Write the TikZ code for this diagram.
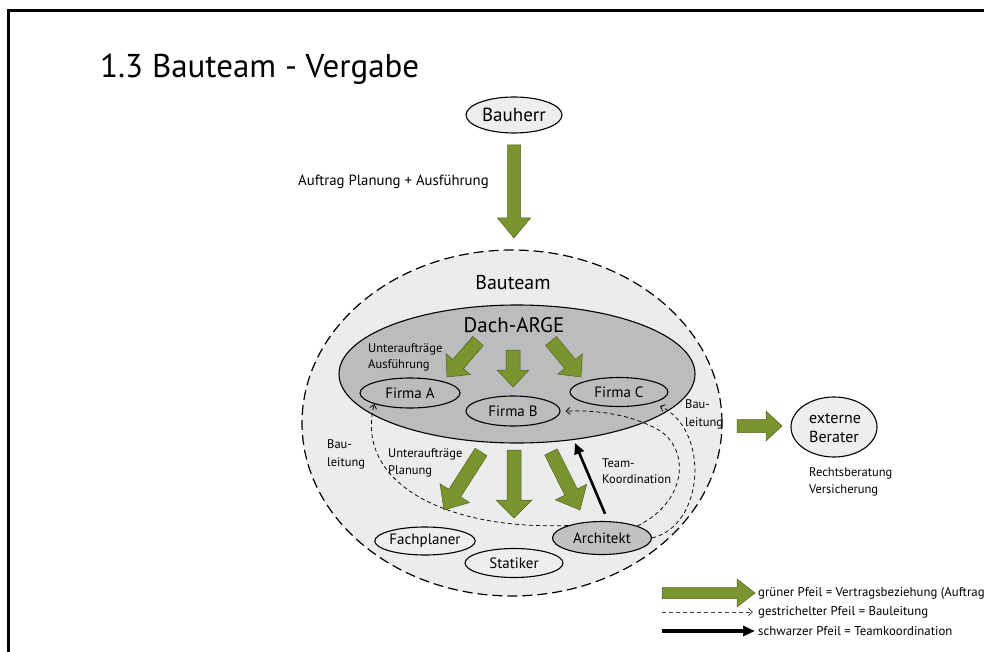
\documentclass[tikz,border=0pt]{standalone}
\usepackage{fontspec}
\setmainfont{PT Sans}
\usetikzlibrary{shapes.geometric,arrows.meta,calc}

\definecolor{arrowgreen}{RGB}{122,148,48}
\definecolor{arrowedge}{RGB}{82,98,28}
\definecolor{teamfill}{RGB}{235,236,236}
\definecolor{argefill}{RGB}{186,188,190}
\definecolor{lightnode}{RGB}{238,238,238}
\definecolor{architektfill}{RGB}{192,194,196}

\newcommand\setfs[2]{\fontsize{#1}{#2}\selectfont}

% fat contract arrow between two named coordinates:
% #1 from, #2 to, #3 half shaft width, #4 half head width, #5 head length (all pt)
\newcommand\fatarrow[5]{%
  \path let \p1=($(#2)-(#1)$) in
    \pgfextra{\pgfmathsetmacro\faAngle{atan2(\y1,\x1)}%
              \pgfmathsetmacro\faLength{veclen(\x1,\y1)}%
              \xdef\faA{\faAngle}\xdef\faL{\faLength}};
  \begin{scope}[shift={(#1)},rotate=\faA]
    \filldraw[fatarrowstyle] (0pt,-#3pt) -- ({\faL pt-#5pt},-#3pt) -- ({\faL pt-#5pt},-#4pt)
      -- (\faL pt,0pt) -- ({\faL pt-#5pt},#4pt) -- ({\faL pt-#5pt},#3pt) -- (0pt,#3pt) -- cycle;
  \end{scope}}

\begin{document}
\begin{tikzpicture}[x=1pt,y=-1pt,
  ell/.style={ellipse, draw=black, line width=1.1pt, inner sep=0pt},
  lbl/.style={inner sep=0pt, align=left, anchor=west},
  fatarrowstyle/.style={fill=arrowgreen, draw=arrowedge, line width=0.5pt, line join=miter},
  bauleitung/.style={draw, line width=0.75pt, dash pattern=on 4pt off 3pt,
    -{Straight Barb[length=4pt,width=7pt]}},
  teamarrow/.style={draw, line width=2.6pt, -{Triangle[length=11pt,width=10pt]}}
]
\useasboundingbox (0,0) rectangle (984,652);
\fill[white] (0,0) rectangle (984,652);
\draw[line width=2.4pt, line join=miter] (8.5,700) -- (8.5,10.5) -- (1010,10.5);

% heading
\node[anchor=base west, inner sep=0pt, font=\setfs{33}{38}] (title) at (100,78) {1.3 Bauteam - Vergabe};

% client
\node[ell, fill=lightnode, minimum width=96pt, minimum height=36pt, font=\setfs{19}{20}] (bh) at (514,115) {Bauherr};
\node[lbl, font=\setfs{14.8}{16}] (auftrag) at (298,182) {Auftrag Planung + Ausführung};

% building team
\node[ell, fill=teamfill, minimum width=420pt, minimum height=346pt, line width=1.2pt,
      dash pattern=on 10pt off 5pt] (bt) at (512,423) {};
\node[inner sep=0pt, font=\setfs{20}{22}] (btl) at (513,283) {Bauteam};

% roofing joint venture
\node[ell, fill=argefill, minimum width=356pt, minimum height=138pt] (dach) at (517,374) {};
\node[inner sep=0pt, font=\setfs{21}{22}] (dachl) at (514,325) {Dach-ARGE};
\node[ell, fill=argefill, minimum width=100pt, minimum height=30pt, font=\setfs{15}{16}] (fa) at (410,393) {Firma A};
\node[ell, fill=argefill, minimum width=94pt, minimum height=30pt, font=\setfs{15}{16}] (fb) at (513,411) {Firma B};
\node[ell, fill=argefill, minimum width=98pt, minimum height=29pt, font=\setfs{15}{16}] (fc) at (619,392) {Firma C};
\node[lbl, font=\setfs{12.5}{16}] (uaa) at (368,357) {Unteraufträge\\Ausführung};

% planners
\node[ell, fill=lightnode, minimum width=98pt, minimum height=28pt, font=\setfs{15}{16}] (fp) at (425,541) {Fachplaner};
\node[ell, fill=lightnode, minimum width=98pt, minimum height=29pt, font=\setfs{15}{16}] (st) at (514,563) {Statiker};
\node[ell, fill=architektfill, minimum width=99pt, minimum height=33pt, font=\setfs{15}{16}] (arch) at (602,538) {Architekt};
\node[lbl, font=\setfs{12.5}{17}] (uap) at (388,463) {Unteraufträge\\Planung};
\node[lbl, font=\setfs{12.5}{18}] (bl1) at (327,454) {Bau-\\leitung};
\node[lbl, font=\setfs{12.5}{18}] (bl2) at (685,414) {Bau-\\leitung};
\node[lbl, font=\setfs{12.5}{16.5}] (tk) at (602,471) {Team-\\Koordination};

% external consultants
\node[ell, fill=lightnode, minimum width=86pt, minimum height=60pt] (ext) at (834,427) {};
\node[lbl, font=\setfs{16}{19}] (extl) at (809,428) {externe\\Berater};
\node[lbl, font=\setfs{12.5}{17}] (extd) at (809,482) {Rechtsberatung\\Versicherung};

% contract arrows
\coordinate (g0s) at (514,145); \coordinate (g0e) at (514,238);
\fatarrow{g0s}{g0e}{6.5}{16.5}{20}
\coordinate (g1s) at (478,341); \coordinate (g1e) at (447,377);
\fatarrow{g1s}{g1e}{7}{16}{17}
\coordinate (g2s) at (513,350); \coordinate (g2e) at (513,387);
\fatarrow{g2s}{g2e}{7}{16}{17}
\coordinate (g3s) at (551,341); \coordinate (g3e) at (581,377);
\fatarrow{g3s}{g3e}{7}{16}{17}
\coordinate (g4s) at (481,452); \coordinate (g4e) at (444,510);
\fatarrow{g4s}{g4e}{7}{17.5}{20}
\coordinate (g5s) at (514,450); \coordinate (g5e) at (514,518);
\fatarrow{g5s}{g5e}{7}{18}{18}
\coordinate (g6s) at (551,452); \coordinate (g6e) at (580,510);
\fatarrow{g6s}{g6e}{7}{17.5}{20}
\coordinate (g7s) at (737,426); \coordinate (g7e) at (782,426);
\fatarrow{g7s}{g7e}{6.5}{15}{16}

% site management (dashed)
\draw[bauleitung] (arch.160) .. controls (440,530) and (355,480) .. (fa.south west);
\draw[bauleitung] (arch.north east) .. controls (690,500) and (690,445) .. (655,428)
      .. controls (630,415) and (600,410) .. ([xshift=5pt]fb.east);
\coordinate (fcin) at (660,406);
\draw[bauleitung] (arch.east) .. controls (705,525) and (710,430) .. (fcin);

% team coordination
\coordinate (tkend) at (575,443);
\draw[teamarrow, shorten <=8pt] (arch.70) -- (tkend);

% legend
\coordinate (lg1s) at (662,593); \coordinate (lg1e) at (755,593);
\fatarrow{lg1s}{lg1e}{5.5}{14}{18}
\coordinate (lg2s) at (662,612); \coordinate (lg2e) at (753,612);
\draw[bauleitung, draw=black!75] (lg2s) -- (lg2e);
\coordinate (lg3s) at (662,631); \coordinate (lg3e) at (755,631);
\draw[line width=3.2pt, -{Triangle[length=12pt,width=10pt]}] (lg3s) -- (lg3e);
\node[lbl, font=\setfs{12.8}{14}] (lt1) at (758,593) {grüner Pfeil = Vertragsbeziehung (Auftrag};
\node[lbl, font=\setfs{12.8}{14}] (lt2) at (758,612) {gestrichelter Pfeil = Bauleitung};
\node[lbl, font=\setfs{12.8}{14}] (lt3) at (758,631) {schwarzer Pfeil = Teamkoordination};
\end{tikzpicture}
\end{document}
